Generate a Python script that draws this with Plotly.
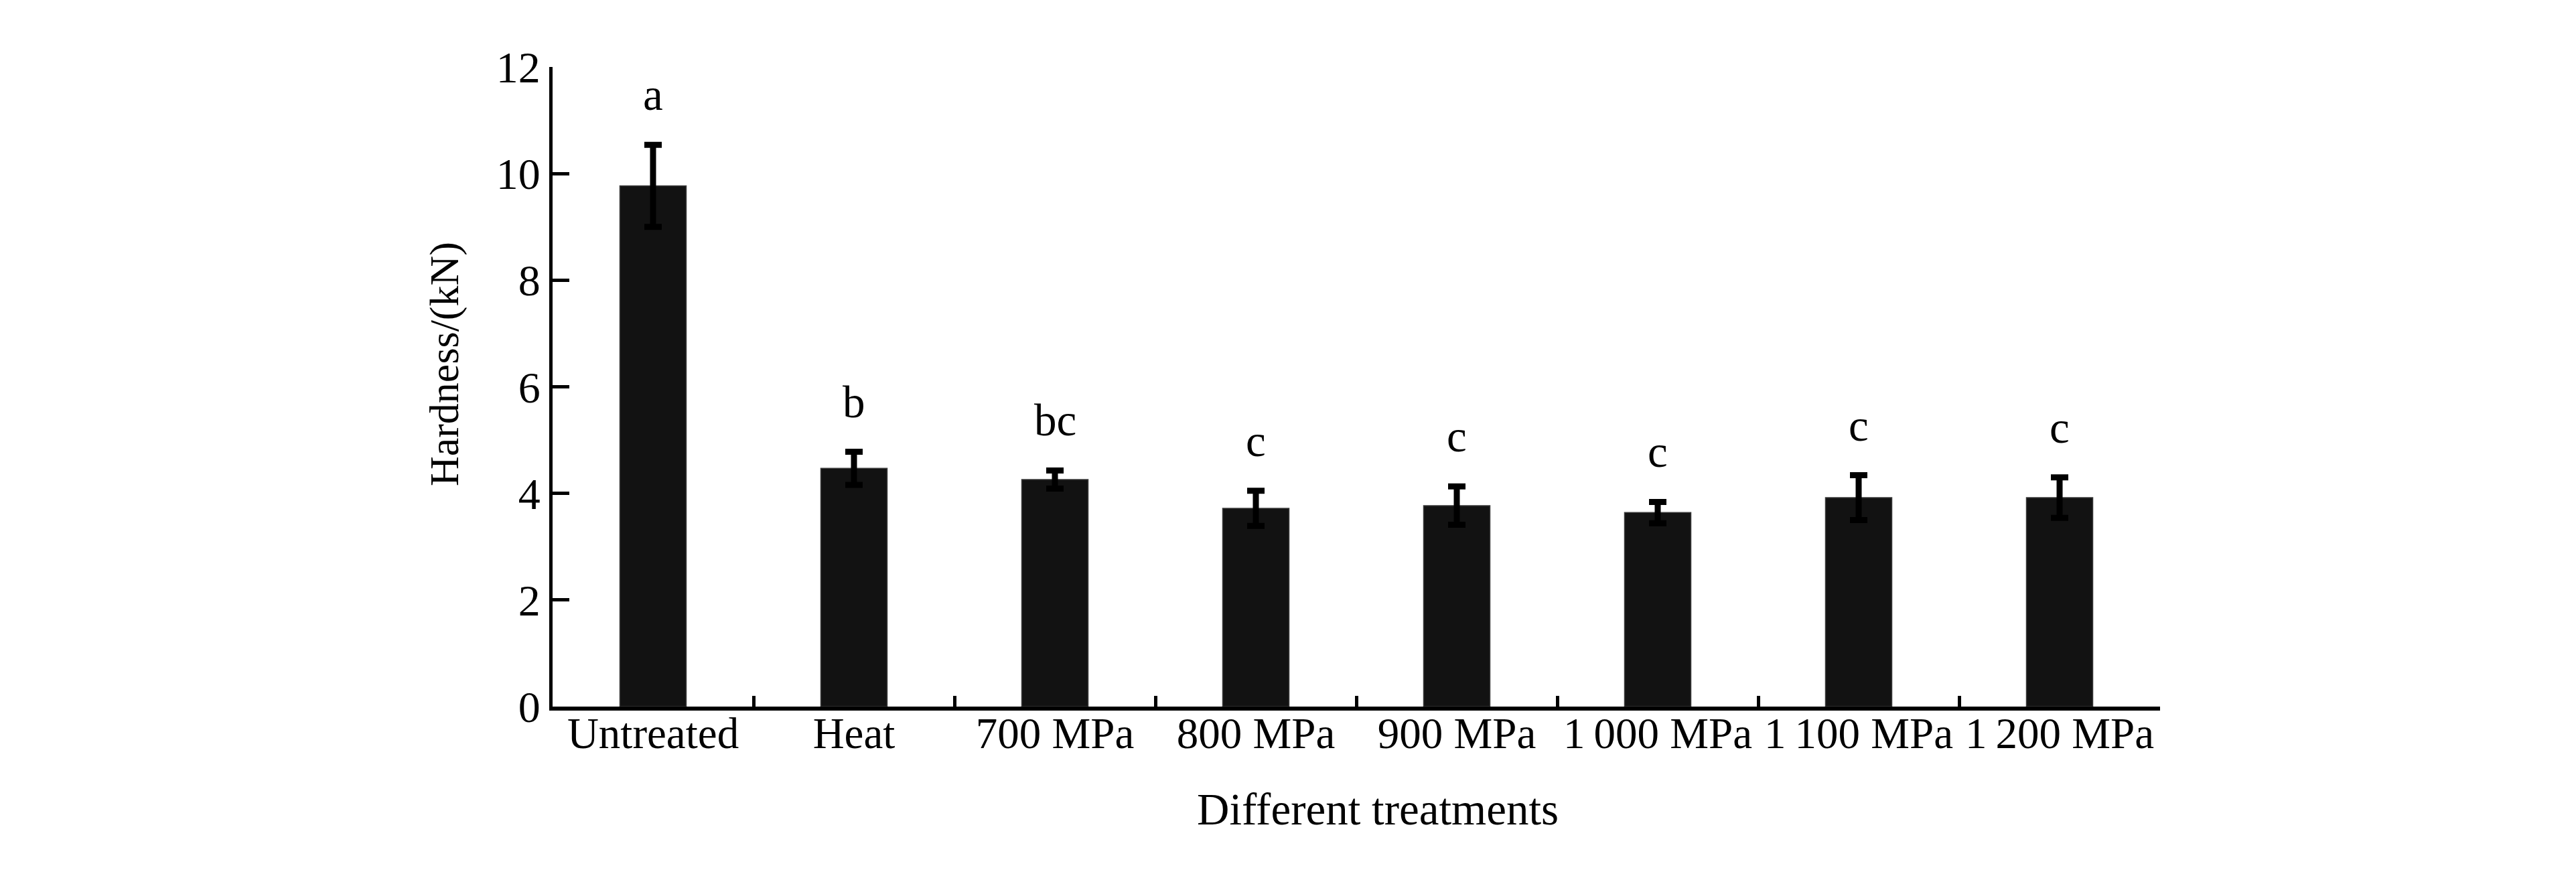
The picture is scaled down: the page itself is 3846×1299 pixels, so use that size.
import plotly.graph_objects as go

categories = ["Untreated", "Heat", "700 MPa", "800 MPa", "900 MPa",
              "1\u2009000 MPa", "1\u2009100 MPa", "1\u2009200 MPa"]
hardness = [9.77, 4.47, 4.26, 3.72, 3.77, 3.64, 3.92, 3.92]
hardness_sd = [0.77, 0.31, 0.17, 0.33, 0.36, 0.20, 0.42, 0.38]
letters = ["a", "b", "bc", "c", "c", "c", "c", "c"]
y_ticks = [0, 2, 4, 6, 8, 10, 12]

FONT = "Liberation Serif, Times New Roman, serif"

fig = go.Figure()
fig.add_trace(go.Bar(
    x=categories, y=hardness, width=0.33,
    marker=dict(color="#121212", line=dict(color="#3a3a3a", width=1.5)),
    error_y=dict(type="data", array=hardness_sd, visible=True,
                 color="black", thickness=9, width=13),
    showlegend=False,
))

for c, v, e, t in zip(categories, hardness, hardness_sd, letters):
    fig.add_annotation(x=c, y=v + e, text=t, showarrow=False,
                       yanchor="bottom", yshift=36,
                       font=dict(family=FONT, size=67, color="black"))

fig.add_annotation(text="Hardness/(kN)", xref="paper", yref="paper",
                   x=-0.0675, y=0.535, textangle=-90, showarrow=False,
                   xanchor="center", yanchor="middle",
                   font=dict(family=FONT, size=62, color="black"))
fig.add_annotation(text="Different treatments", xref="paper", yref="paper",
                   x=0.5135, y=-0.16, showarrow=False,
                   xanchor="center", yanchor="middle",
                   font=dict(family=FONT, size=67, color="black"))

fig.update_layout(
    width=3846, height=1299,
    margin=dict(l=817, r=629, t=92, b=252, pad=0),
    paper_bgcolor="white", plot_bgcolor="white",
    font=dict(family=FONT, size=66, color="black"),
    bargap=0.67,
)
fig.update_xaxes(
    type="category", range=[-0.5, 7.5],
    showline=True, linecolor="black", linewidth=6,
    ticks="inside", tickson="boundaries", ticklen=16, tickwidth=5, tickcolor="black",
    showgrid=False, zeroline=False, ticklabelstandoff=-22, tickangle=0,
    tickfont=dict(family=FONT, size=65, color="black"),
)
fig.update_yaxes(
    range=[0, 12], tickvals=y_ticks,
    showline=True, linecolor="black", linewidth=5,
    ticks="inside", ticklen=25, tickwidth=5, tickcolor="black",
    showgrid=False, zeroline=False,
    tickfont=dict(family=FONT, size=66, color="black"),
)

fig.write_html("out.html")
